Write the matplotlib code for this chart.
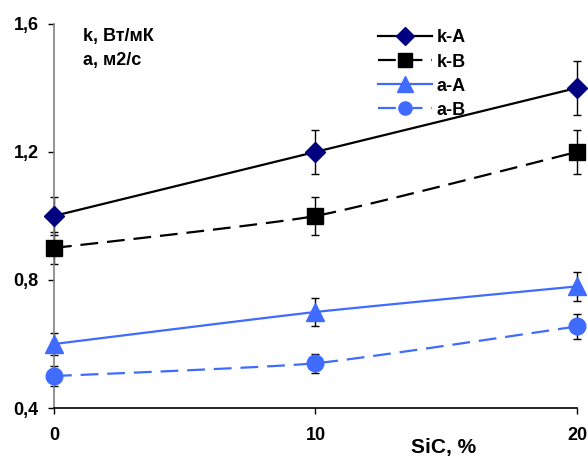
import numpy as np
import matplotlib
matplotlib.use("Agg")
import matplotlib.pyplot as plt

x = [0, 10, 20]
kA = [1.0, 1.2, 1.4]
kA_err = [0.06, 0.07, 0.085]
kB = [0.9, 1.0, 1.2]
kB_err = [0.05, 0.06, 0.07]
aA = [0.6, 0.7, 0.78]
aA_err = [0.035, 0.045, 0.045]
aB = [0.5, 0.54, 0.655]
aB_err = [0.03, 0.03, 0.04]
labels = ["k-A", "k-B", "a-A", "a-B"]
xticks = [0, 10, 20]
yticks = [0.4, 0.8, 1.2, 1.6]
ytick_labels = ["0,4", "0,8", "1,2", "1,6"]

plt.rcParams['font.family'] = ['Liberation Sans', 'DejaVu Sans']
plt.rcParams['font.weight'] = 'bold'


def smooth(xs, ys, n=40, k=12.0):
    xs = np.asarray(xs, float)
    ys = np.asarray(ys, float)
    P = np.column_stack([xs, ys])
    out = []
    for i in range(len(P) - 1):
        p0 = P[i - 1] if i > 0 else P[i]
        p1 = P[i]
        p2 = P[i + 1]
        p3 = P[i + 2] if i + 2 < len(P) else P[i + 1]
        c1 = p1 + (p2 - p0) / k
        c2 = p2 - (p3 - p1) / k
        t = np.linspace(0, 1, n)[:, None]
        seg = ((1 - t) ** 3) * p1 + 3 * ((1 - t) ** 2) * t * c1 + 3 * (1 - t) * t ** 2 * c2 + t ** 3 * p2
        out.append(seg if i == 0 else seg[1:])
    S = np.vstack(out)
    return S[:, 0], S[:, 1]


fig = plt.figure(figsize=(5.88, 4.59), dpi=100)
ax = fig.add_axes([0.0918, 0.111, 0.8895, 0.837])

blue = '#3f6bff'
navy = '#000080'
dash = (0, (8, 4))
series = [
    (kA, kA_err, 'black', '-', 'D', navy, 10, 9.5, labels[0]),
    (kB, kB_err, 'black', dash, 's', 'black', 12, 9.5, labels[1]),
    (aA, aA_err, blue, '-', '^', blue, 13, 11, labels[2]),
    (aB, aB_err, blue, dash, 'o', blue, 12, 9.5, labels[3]),
]
handles = []
for ys, err, lc, ls, mk, mc, ms, lms, lab in series:
    ax.errorbar(x, ys, yerr=err, fmt='none', ecolor='black', elinewidth=1,
                capsize=3, capthick=1, zorder=2, clip_on=False)
    sx, sy = smooth(x, ys)
    ax.plot(sx, sy, color=lc, ls=ls, lw=1.6, zorder=3, clip_on=False)
    ax.plot(x, ys, ls='none', marker=mk, color=mc, ms=ms, zorder=4, clip_on=False)
    h, = ax.plot([], [], color=lc, ls=ls, lw=1.6, marker=mk, mfc=mc, mec=mc, ms=lms)
    handles.append(h)

ax.set_xlim(0, 20)
ax.set_ylim(0.4, 1.6)
ax.set_xticks(xticks)
ax.set_xticklabels([str(v) for v in xticks], fontsize=13, fontweight='bold')
ax.set_yticks(yticks)
ax.set_yticklabels(ytick_labels, fontsize=13, fontweight='bold')
ax.spines['top'].set_visible(False)
ax.spines['right'].set_visible(False)
ax.spines['left'].set_color('#808080')
ax.spines['left'].set_linewidth(1.2)
ax.spines['bottom'].set_linewidth(1.2)
ax.tick_params(axis='y', direction='out', length=4, width=1, color='black', pad=7)
ax.tick_params(axis='x', direction='out', length=4, width=1, color='black', pad=10)

ax.set_xlabel("SiC, %", fontsize=15, fontweight='bold')
ax.xaxis.set_label_coords(0.744, -0.078)

fig.text(83 / 588, 1 - 37 / 459, "k, Вт/мК", fontsize=13, fontweight='bold', va='center', ha='left')
fig.text(83 / 588, 1 - 61 / 459, "a, м2/с", fontsize=13, fontweight='bold', va='center', ha='left')

leg = fig.legend(handles, labels, loc='upper left', bbox_to_anchor=(378 / 588, 1 - 29.5 / 459),
                 frameon=False, prop={'size': 13, 'weight': 'bold'}, handlelength=3.0,
                 handletextpad=0.25, labelspacing=0.39, borderpad=0, borderaxespad=0)

fig.savefig("out.png", dpi=100)
